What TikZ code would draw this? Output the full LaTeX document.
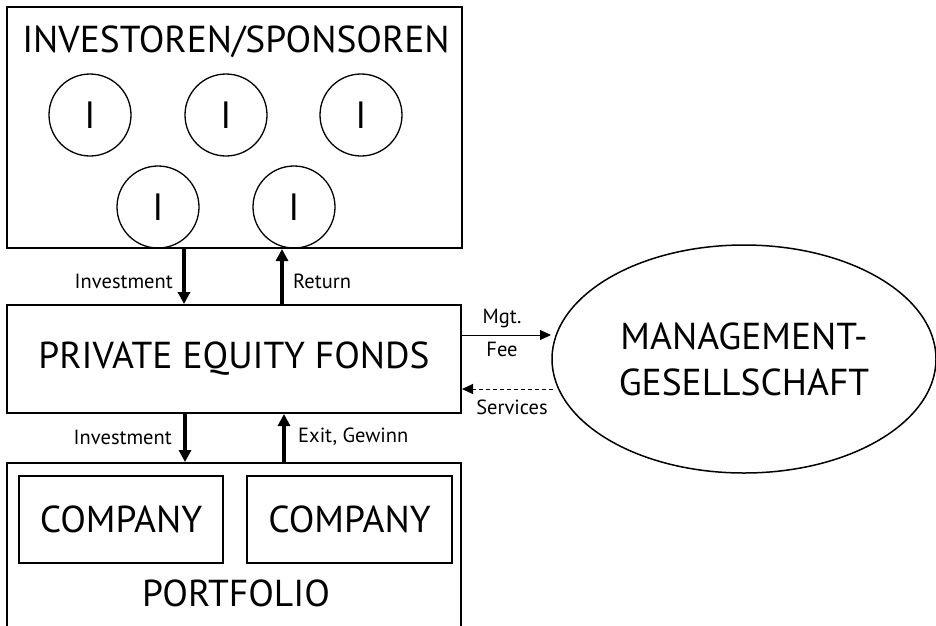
\documentclass[tikz,border=0pt]{standalone}
\usepackage{fontspec}
\setmainfont{PT Sans}
\usetikzlibrary{shapes.geometric,arrows.meta}
\begin{document}
\begin{tikzpicture}[x=1pt,y=-1pt,
  box/.style={draw,line width=2pt,inner sep=0pt},
  inv/.style={draw,line width=1.3pt,circle,minimum size=82pt,inner sep=0pt,font=\fontsize{38}{40}\selectfont},
  big/.style={font=\fontsize{37.5}{40}\selectfont},
  lab/.style={font=\fontsize{20.5}{22}\selectfont,inner sep=0pt},
  thickarr/.style={line width=3.5pt,-{Triangle[length=12pt,width=12pt]}},
  thinarr/.style={line width=1pt,-{Triangle[length=11pt,width=10pt]}}]
\useasboundingbox (0,0) rectangle (936,625);
\clip (0,0) rectangle (936,625);
% top box
\node[box,minimum width=455pt,minimum height=241pt] (top) at (234.5,127.5) {};
\node[big,anchor=base] (ttl) at (236,52) {INVESTOREN/SPONSOREN};
\node[inv] (i1) at (90,115) {I};
\node[inv] (i2) at (226,115) {I};
\node[inv] (i3) at (361,115) {I};
\node[inv] (i4) at (158,207) {I};
\node[inv] (i5) at (294,207) {I};
% middle
\node[box,minimum width=454pt,minimum height=108pt,big] (pef) at (234,359) {PRIVATE EQUITY FONDS};
% portfolio
\node[box,minimum width=454pt,minimum height=172pt] (pf) at (234,549) {};
\node[box,minimum width=204pt,minimum height=87pt,big] (c1) at (121,519.5) {COMPANY};
\node[box,minimum width=205pt,minimum height=87pt,big] (c2) at (349.5,519.5) {COMPANY};
\node[big] (pfl) at (236,593) {PORTFOLIO};
% ellipse
\node[draw,line width=1.5pt,ellipse,minimum width=384pt,minimum height=228pt,inner sep=0pt,align=center,font=\fontsize{37.5}{46}\selectfont] (mg) at (744,359) {MANAGEMENT-\\GESELLSCHAFT};
% vertical arrows
\coordinate (a1) at (184,0);
\coordinate (a2) at (282,0);
\coordinate (a3) at (185,0);
\coordinate (a4) at (284,0);
\draw[thickarr] (top.south -| a1) -- (pef.north -| a1);
\draw[thickarr] (pef.north -| a2) -- (top.south -| a2);
\draw[thickarr] (pef.south -| a3) -- (pf.north -| a3);
\draw[thickarr] (pf.north -| a4) -- (pef.south -| a4);
\node[lab,anchor=east] (l1) at (173,281) {Investment};
\node[lab,anchor=west] (l2) at (293,281) {Return};
\node[lab,anchor=east] (l3) at (172,437) {Investment};
\node[lab,anchor=west] (l4) at (298,437) {Exit, Gewinn};
% horizontal arrows
\coordinate (h1) at (551,335);
\coordinate (h2) at (553,389);
\draw[thinarr] (pef.east |- h1) -- (h1);
\draw[thinarr,dashed,dash pattern=on 4pt off 3pt] (h2) -- (pef.east |- h2);
\node[lab] (mf1) at (502,318) {Mgt.};
\node[lab] (mf2) at (502,349) {Fee};
\node[lab] (sv) at (512,407) {Services};
\end{tikzpicture}
\end{document}
